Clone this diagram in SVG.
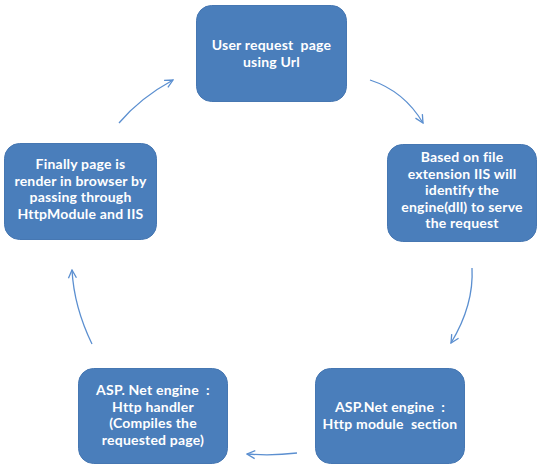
<svg xmlns="http://www.w3.org/2000/svg" width="544" height="470" viewBox="0 0 544 470">
<defs>
<style>
.box{fill:#4A7EBB;stroke:#4677B2;stroke-width:1}
.t{font-family:Lato,"Liberation Sans",Arial,sans-serif;font-weight:bold;font-size:14px;letter-spacing:0.2px;fill:#ffffff;text-anchor:middle;white-space:pre}
.c{fill:none;stroke:#5B8FD0;stroke-width:1.3;marker-end:url(#ah)}
</style>
<marker id="ah" viewBox="0 0 10 10" refX="9" refY="5" markerWidth="10" markerHeight="10" markerUnits="userSpaceOnUse" orient="auto">
<path d="M1,1 L9,5 L1,9" fill="none" stroke="#5B8FD0" stroke-width="1.3"/>
</marker>
</defs>
<rect width="544" height="470" fill="#ffffff"/>
<g id="connectors">
<path class="c" d="M370,80 Q404,91 423,123"/>
<path class="c" d="M472,268 Q474,305 451,343"/>
<path class="c" d="M297,453 Q272,456 247,454"/>
<path class="c" d="M92,344 Q74,307 72,270"/>
<path class="c" d="M119,123 Q140,98 173,80"/>
</g>
<g id="node1">
<rect class="box" x="196.5" y="5.5" width="150" height="96" rx="15"/>
<text class="t" x="271.5" y="50" xml:space="preserve">User request  page</text>
<text class="t" x="271.5" y="67">using Url</text>
</g>
<g id="node2">
<rect class="box" x="387.5" y="144.5" width="149" height="97" rx="15"/>
<text class="t" x="462" y="162">Based on file</text>
<text class="t" x="462" y="178.5">extension IIS will</text>
<text class="t" x="462" y="195">identify the</text>
<text class="t" x="462" y="211.5">engine(dll) to serve</text>
<text class="t" x="462" y="228">the request</text>
</g>
<g id="node3">
<rect class="box" x="315.5" y="368.5" width="149" height="95" rx="15"/>
<text class="t" x="390" y="412" xml:space="preserve">ASP.Net engine  :</text>
<text class="t" x="390" y="428.5" xml:space="preserve">Http module  section</text>
</g>
<g id="node4">
<rect class="box" x="78.5" y="368.5" width="149" height="95" rx="15"/>
<text class="t" x="153" y="395" xml:space="preserve">ASP. Net engine  :</text>
<text class="t" x="153" y="411.5">Http handler</text>
<text class="t" x="153" y="428">(Compiles the</text>
<text class="t" x="153" y="444.5">requested page)</text>
</g>
<g id="node5">
<rect class="box" x="4.5" y="143.5" width="152" height="96" rx="15"/>
<text class="t" x="80.5" y="169">Finally page is</text>
<text class="t" x="80.5" y="185.5">render in browser by</text>
<text class="t" x="80.5" y="202">passing through</text>
<text class="t" x="80.5" y="218.5">HttpModule and IIS</text>
</g>
</svg>
